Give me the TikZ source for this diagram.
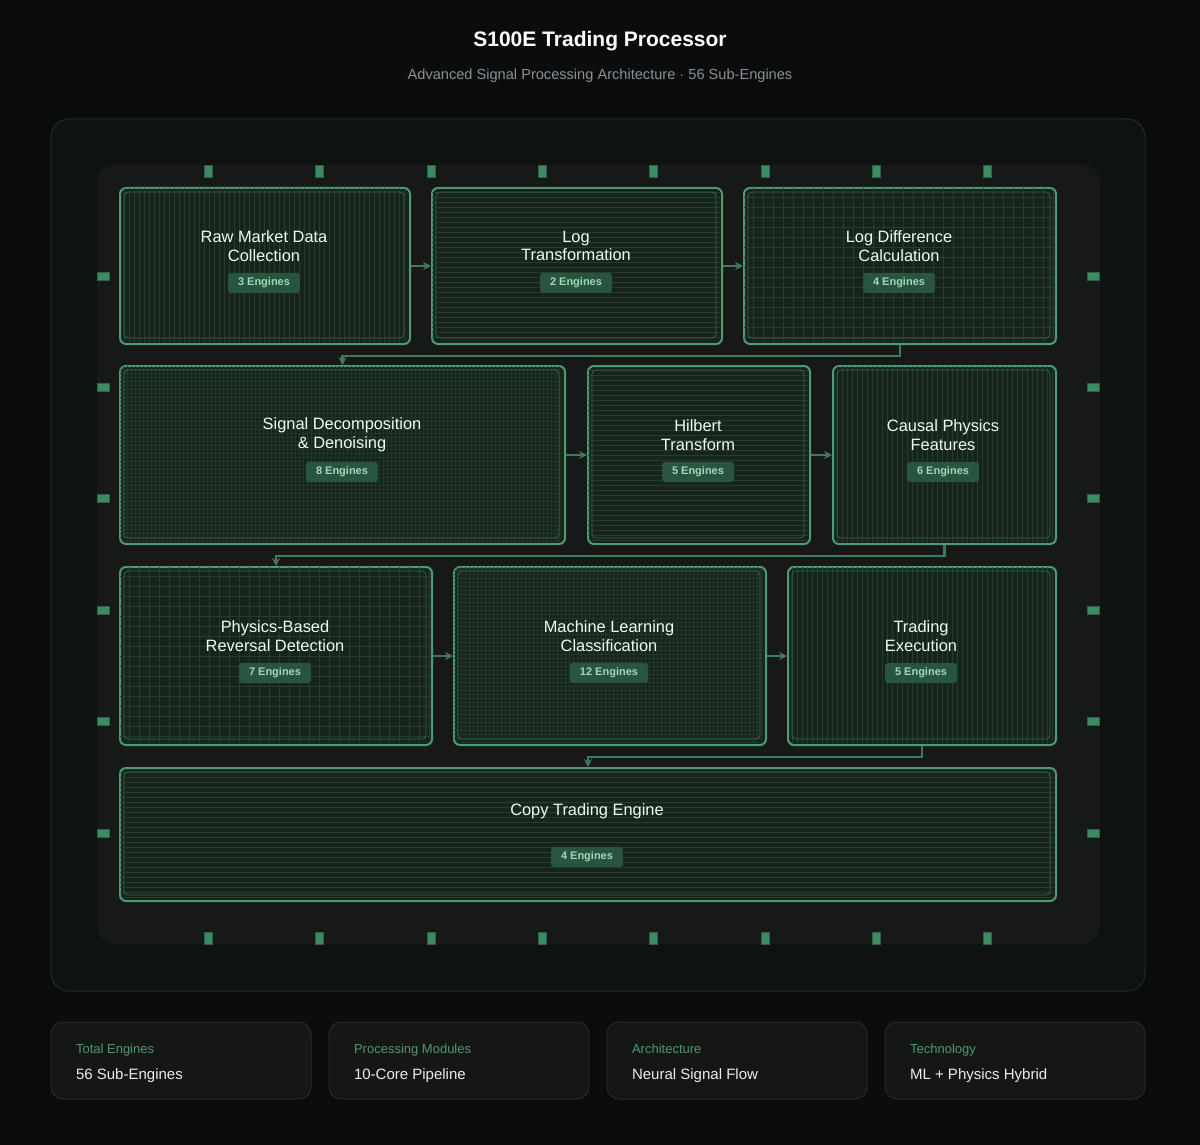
\documentclass[tikz,border=0pt]{standalone}
\usepackage{fontspec}
\setmainfont{Liberation Sans}
\usetikzlibrary{arrows.meta}
\definecolor{bg}{HTML}{0B0C0C}
\definecolor{outer}{HTML}{0E1210}
\definecolor{chip}{HTML}{171818}
\definecolor{boxf}{HTML}{16241C}
\definecolor{edge}{HTML}{4E9A72}
\definecolor{pat}{HTML}{243D30}
\definecolor{badge}{HTML}{285440}
\definecolor{badget}{HTML}{9ED9B8}
\definecolor{pin}{HTML}{3E8A62}
\definecolor{conn}{HTML}{3F7A5C}
\definecolor{lab}{HTML}{4E9A6C}
\definecolor{sub}{HTML}{8A8F9A}
\tikzset{
 core/.style={draw=edge,line width=1pt,rounded corners=3pt,fill=boxf},
 ttl/.style={text=white!92!green,font=\fontsize{8.2}{9.3}\selectfont,align=center},
 bdg/.style={fill=badge,text=badget,font=\bfseries\fontsize{5.5}{6}\selectfont,rounded corners=1.5pt,inner xsep=5pt,inner ysep=2.5pt},
 pinv/.style={fill=pin,draw=pin!70!black,line width=0.3pt},
 cn/.style={draw=conn,line width=1.2pt,-{Stealth[length=4pt,width=4pt]}},
 card/.style={draw=white!12!bg,fill=white!4!bg,rounded corners=6pt,line width=0.5pt},
}
\newcommand{\mkcore}[6]{%
 \pgfmathsetmacro\cwd{(#4-#2)*0.5}\pgfmathsetmacro\cht{(#5-#3)*0.5}%
 \node[core,minimum width=\cwd pt,minimum height=\cht pt,anchor=north west,inner sep=0pt] (#1) at (#2,#3) {};
 \begin{scope}
 \clip[rounded corners=3pt] (#2+1,#3+1) rectangle (#4-1,#5-1);
 \pgfmathtruncatemacro\xa{#2+5}\pgfmathtruncatemacro\ya{#3+5}%
 \pgfmathtruncatemacro\xb{#2+10}\pgfmathtruncatemacro\yb{#3+10}%
 \pgfmathtruncatemacro\xc{#2+4}\pgfmathtruncatemacro\yc{#3+4}%
 \ifcase#6
 \foreach \q in {#2,\xa,...,#4}{\draw[pat,line width=0.3pt] (\q,#3) -- (\q,#5);}
 \or
 \foreach \q in {#3,\ya,...,#5}{\draw[pat,line width=0.3pt] (#2,\q) -- (#4,\q);}
 \or
 \foreach \q in {#2,\xb,...,#4}{\draw[pat,line width=0.3pt] (\q,#3) -- (\q,#5);}
 \foreach \q in {#3,\yb,...,#5}{\draw[pat,line width=0.3pt] (#2,\q) -- (#4,\q);}
 \or
 \foreach \q in {#2,\xc,...,#4}{\draw[pat!70!boxf,line width=0.3pt] (\q,#3) -- (\q,#5);}
 \foreach \q in {#3,\yc,...,#5}{\draw[pat!70!boxf,line width=0.3pt] (#2,\q) -- (#4,\q);}
 \fi
 \end{scope}
 \draw[edge!55!boxf,line width=0.4pt,rounded corners=2pt] (#2+5,#3+5) rectangle (#4-5,#5-5);
}
\begin{document}
\begin{tikzpicture}[x=0.5pt,y=-0.5pt]
\fill[bg] (0,0) rectangle (1200,1145);
\useasboundingbox (0,0) rectangle (1200,1145);
\node[text=white,font=\bfseries\fontsize{10.5}{12}\selectfont] (title) at (600,41) {S100E Trading Processor};
\node[text=sub,font=\fontsize{7.3}{8}\selectfont] (subt) at (600,76) {Advanced Signal Processing Architecture · 56 Sub-Engines};
\draw[fill=outer,draw=white!10!outer,rounded corners=9pt,line width=0.5pt] (51,119) rectangle (1145,991);
\fill[chip,rounded corners=9pt] (97,165) rectangle (1100,944);
\foreach \x in {208,319,431,542,653,765,876,987}{
 \draw[pinv] (\x-4,165) rectangle (\x+4,177);
 \draw[pinv] (\x-4,932) rectangle (\x+4,944);}
\foreach \y in {276,387,498,610,721,833}{
 \draw[pinv] (97,\y-4) rectangle (109,\y+4);
 \draw[pinv] (1087,\y-4) rectangle (1099,\y+4);}
\mkcore{A}{119}{187}{409}{343}{0}
\mkcore{B}{431}{187}{721}{343}{1}
\mkcore{C}{743}{187}{1055}{343}{2}
\mkcore{D}{119}{365}{564}{543}{3}
\mkcore{E}{587}{365}{809}{543}{1}
\mkcore{F}{832}{365}{1055}{543}{0}
\mkcore{G}{119}{566}{431}{744}{2}
\mkcore{H}{453}{566}{765}{744}{3}
\mkcore{I}{787}{566}{1055}{744}{0}
\mkcore{J}{119}{767}{1055}{900}{1}
\node[ttl] (tA) at (264,246) {Raw Market Data\\Collection};
\node[bdg] (bA) at (264,283) {3 Engines};
\node[ttl] (tB) at (576,246) {Log\\Transformation};
\node[bdg] (bB) at (576,283) {2 Engines};
\node[ttl] (tC) at (899,246) {Log Difference\\Calculation};
\node[bdg] (bC) at (899,283) {4 Engines};
\node[ttl] (tD) at (342,435) {Signal Decomposition\\\& Denoising};
\node[bdg] (bD) at (342,472) {8 Engines};
\node[ttl] (tE) at (698,435) {Hilbert\\Transform};
\node[bdg] (bE) at (698,472) {5 Engines};
\node[ttl] (tF) at (943,435) {Causal Physics\\Features};
\node[bdg] (bF) at (943,472) {6 Engines};
\node[ttl] (tG) at (275,636) {Physics-Based\\Reversal Detection};
\node[bdg] (bG) at (275,673) {7 Engines};
\node[ttl] (tH) at (609,636) {Machine Learning\\Classification};
\node[bdg] (bH) at (609,673) {12 Engines};
\node[ttl] (tI) at (921,636) {Trading\\Execution};
\node[bdg] (bI) at (921,673) {5 Engines};
\node[ttl] (tJ) at (587,811) {Copy Trading Engine};
\node[bdg] (bJ) at (587,857) {4 Engines};
\draw[cn] (A.east) -- (B.west);
\draw[cn] (B.east) -- (C.west);
\draw[cn] (C.south) -- ++(0,11) -| (D.north);
\draw[cn] (D.east) -- (E.west);
\draw[cn] (E.east) -- (F.west);
\draw[cn] (F.south) -- ++(0,11) -| (G.north);
\draw[cn] (G.east) -- (H.west);
\draw[cn] (H.east) -- (I.west);
\draw[cn] (I.south) -- ++(0,11) -| (J.north);
\foreach \x/\a/\b [count=\i] in {51/Total Engines/56 Sub-Engines,329/Processing Modules/10-Core Pipeline,607/Architecture/Neural Signal Flow,885/Technology/ML + Physics Hybrid}{
 \draw[card] (\x,1022) rectangle (\x+260,1099);
 \node[anchor=base west,text=lab,font=\fontsize{6.5}{8}\selectfont] (cl\i) at (\x+18,1053) {\a};
 \node[anchor=base west,text=white!92!bg,font=\fontsize{7.5}{9}\selectfont] (cv\i) at (\x+18,1079) {\b};
}
\end{tikzpicture}
\end{document}
